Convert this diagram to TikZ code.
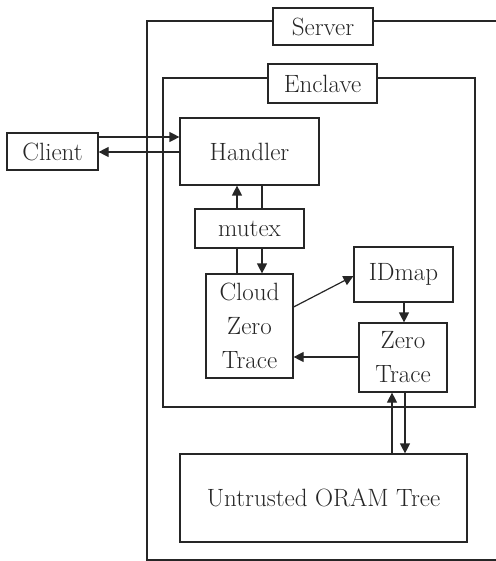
\documentclass[tikz,border=0pt]{standalone}
\usepackage{fontspec}
\usetikzlibrary{arrows.meta}
\begin{document}
\begin{tikzpicture}[x=1pt,y=-1pt,
  box/.style={draw=black!85,line width=1.2pt,rectangle,inner sep=0pt,anchor=center,
     text=black!85,font=\fontsize{25}{34}\selectfont,align=center},
  lbl/.style={box,fill=white},
  arr/.style={draw=black!85,line width=1.2pt,-{Triangle[length=10pt,width=10pt]}},
  ln/.style={draw=black!85,line width=1.2pt}]
\useasboundingbox (0,0) rectangle (495,561);
\node[box,minimum width=352,minimum height=539] (server) at (323,290.5) {};
\node[lbl,minimum width=100,minimum height=37] (serverlbl) at (323,26.5) {Server};
\node[box,minimum width=312,minimum height=329] (enclave) at (319,242.5) {};
\node[lbl,minimum width=109,minimum height=39] (enclavelbl) at (322.5,83.5) {Enclave};
\node[box,minimum width=91,minimum height=37] (client) at (52.5,151.5) {Client};
\node[box,minimum width=139,minimum height=67] (handler) at (249.5,151.5) {Handler};
\node[box,minimum width=109,minimum height=39] (mutex) at (249.5,228.5) {mutex};
\node[box,minimum width=87,minimum height=104] (cloud) at (249.5,326) {Cloud\\Zero\\Trace};
\node[box,minimum width=99,minimum height=55] (idmap) at (403.5,274.5) {IDmap};
\node[box,minimum width=88,minimum height=69] (zt) at (403,357.5) {Zero\\Trace};
\node[box,minimum width=287,minimum height=88] (oram) at (323.5,498) {Untrusted ORAM Tree};
% client <-> handler
\draw[arr] (client.east |- 0,137) -- (handler.west |- 0,137);
\draw[arr] (handler.west |- 0,152) -- (client.east |- 0,152);
% handler <-> mutex <-> cloud
\draw[arr] (mutex.north -| 237,0) -- (handler.south -| 237,0);
\draw[ln] (handler.south -| 262,0) -- (mutex.north -| 262,0);
\draw[ln] (cloud.north -| 237,0) -- (mutex.south -| 237,0);
\draw[arr] (mutex.south -| 262,0) -- (cloud.north -| 262,0);
% cloud -> idmap
\draw[arr] (cloud.east |- 0,307) -- (idmap.west |- 0,276);
% idmap -> zt
\draw[arr] (idmap.south -| 404,0) -- (zt.north -| 404,0);
% zt -> cloud
\draw[arr] (zt.west |- 0,357) -- (cloud.east |- 0,357);
% oram <-> zt
\draw[arr] (oram.north -| 392,0) -- (zt.south -| 392,0);
\draw[arr] (zt.south -| 405,0) -- (oram.north -| 405,0);
\end{tikzpicture}
\end{document}
